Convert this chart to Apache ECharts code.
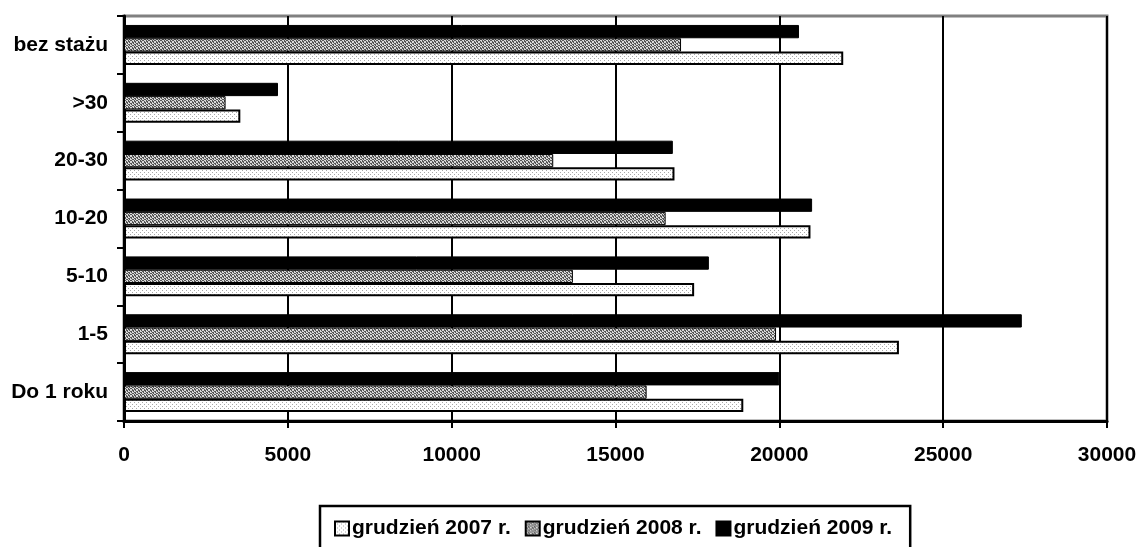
<!DOCTYPE html>
<html>
<head>
<meta charset="utf-8">
<script src="https://cdn.jsdelivr.net/npm/echarts@6/dist/echarts.min.js"></script>
<style>
  html, body { margin: 0; padding: 0; background: #fff; }
  #chart { width: 1140px; height: 547px; }
</style>
</head>
<body>
<div id="chart"></div>
<script>
var categories = ['Do 1 roku', '1-5', '5-10', '10-20', '20-30', '>30', 'bez stażu'];
var seriesNames = ['grudzień 2007 r.', 'grudzień 2008 r.', 'grudzień 2009 r.'];
var values2007 = [18900, 23650, 17400, 20950, 16800, 3550, 21950];
var values2008 = [15950, 19900, 13700, 16530, 13100, 3100, 17000];
var values2009 = [20000, 27400, 17850, 21000, 16750, 4700, 20600];
var xTicks = [0, 5000, 10000, 15000, 20000, 25000, 30000];

var font = '"Liberation Sans", Arial, sans-serif';

// small repeating fills that imitate the print patterns
function makePattern(size, bg, dots, dotColor) {
  var c = document.createElement('canvas');
  c.width = size; c.height = size;
  var ctx = c.getContext('2d');
  ctx.fillStyle = bg;
  ctx.fillRect(0, 0, size, size);
  ctx.fillStyle = dotColor;
  for (var i = 0; i < dots.length; i++) {
    ctx.fillRect(dots[i][0], dots[i][1], 1, 1);
  }
  return c;
}

var light = makePattern(4, '#ffffff', [[0, 0], [2, 2]], '#a8a8a8');
var dark = makePattern(6, '#d8d8d8', [
  [0, 0], [1, 0], [3, 0], [4, 1], [5, 1], [1, 1], [2, 2], [3, 2], [5, 2],
  [0, 3], [1, 3], [3, 3], [4, 4], [5, 4], [2, 4], [0, 5], [2, 5], [3, 5]
], '#555555');

var chart = echarts.init(document.getElementById('chart'));

var option = {
  animation: false,
  grid: {
    left: 124,
    right: 33,
    top: 16,
    bottom: 126,
    show: true,
    borderColor: '#808080',
    borderWidth: 3,
    backgroundColor: '#fff'
  },
  xAxis: {
    type: 'value',
    min: 0,
    max: 30000,
    interval: 5000,
    axisLine: { show: true, lineStyle: { color: '#000', width: 3 } },
    axisTick: { show: true, length: 7, lineStyle: { color: '#000', width: 2 } },
    splitLine: { show: true, lineStyle: { color: '#000', width: 2 } },
    axisLabel: {
      margin: 24,
      color: '#000',
      fontFamily: font,
      fontWeight: 'bold',
      fontSize: 21,
      formatter: function (v) { return xTicks.indexOf(v) >= 0 ? String(v) : ''; }
    }
  },
  yAxis: {
    type: 'category',
    data: categories,
    axisLine: { show: true, lineStyle: { color: '#000', width: 3 } },
    axisTick: { show: true, length: 7, lineStyle: { color: '#000', width: 2 } },
    splitLine: { show: false },
    axisLabel: {
      margin: 16,
      color: '#000',
      fontFamily: font,
      fontWeight: 'bold',
      fontSize: 21
    }
  },
  legend: {
    data: seriesNames,
    left: 320,
    top: 506,
    orient: 'horizontal',
    itemWidth: 14,
    itemHeight: 14,
    itemGap: 14,
    padding: [12, 18, 20, 14],
    borderColor: '#000',
    borderWidth: 2.5,
    backgroundColor: '#fff',
    selectedMode: false,
    textStyle: {
      color: '#000',
      fontFamily: font,
      fontWeight: 'bold',
      fontSize: 21,
      padding: [0, 0, 0, -2]
    },
    icon: 'rect'
  },
  // series listed top-to-bottom inside each band: 2009 on top, 2007 at the bottom
  series: [
    {
      name: seriesNames[2],
      type: 'bar',
      data: values2009,
      barGap: '0%',
      barCategoryGap: '31%',
      itemStyle: { color: '#000', borderColor: '#000', borderWidth: 1 }
    },
    {
      name: seriesNames[1],
      type: 'bar',
      data: values2008,
      barGap: '0%',
      barCategoryGap: '31%',
      itemStyle: {
        color: { image: dark, repeat: 'repeat' },
        borderColor: '#000',
        borderWidth: 1
      }
    },
    {
      name: seriesNames[0],
      type: 'bar',
      data: values2007,
      barGap: '0%',
      barCategoryGap: '31%',
      itemStyle: {
        color: { image: light, repeat: 'repeat' },
        borderColor: '#000',
        borderWidth: 2
      }
    }
  ]
};

chart.setOption(option);
</script>
</body>
</html>
